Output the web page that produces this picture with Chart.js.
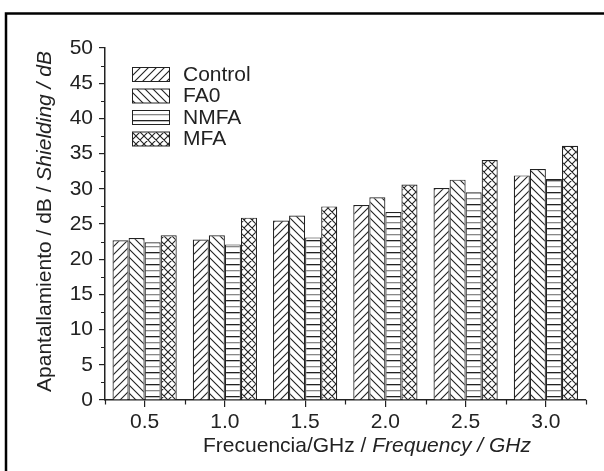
<!DOCTYPE html>
<html>
<head>
<meta charset="utf-8">
<script src="https://cdn.jsdelivr.net/npm/chart.js@4.4.1/dist/chart.umd.min.js"></script>
<style>
  html, body { margin: 0; padding: 0; background: #fff; }
  #grafica { display: block; }
</style>
</head>
<body>
<canvas id="grafica" width="604" height="471"></canvas>
<script>
// Datos
const categorias = ['0.5', '1.0', '1.5', '2.0', '2.5', '3.0'];
const nombresSeries = ['Control', 'FA0', 'NMFA', 'MFA'];
const control = [22.7, 22.8, 25.5, 27.7, 30.1, 31.9];
const fa0 = [23.0, 23.4, 26.2, 28.8, 31.3, 32.8];
const nmfa = [22.4, 22.1, 23.1, 26.7, 29.5, 31.4];
const mfa = [23.4, 25.9, 27.5, 30.6, 34.1, 36.1];
const yMin = 0, yMax = 50, yPaso = 5;

const tinta = '#222';
const fuente = '"Liberation Sans", Arial, sans-serif';

// Tramas de relleno
function crearTrama(tipo) {
  const p = 8;
  const c = document.createElement('canvas');
  c.width = p; c.height = tipo === 'horiz' ? 12 : p;
  const g = c.getContext('2d');
  g.fillStyle = '#fff';
  g.fillRect(0, 0, c.width, c.height);
  if (tipo === 'horiz') {
    g.fillStyle = tinta;
    g.fillRect(0, 0, p, 1.3);
    g.fillStyle = '#888';
    g.fillRect(0, 6, p, 1.3);
    return g.createPattern(c, 'repeat');
  }
  g.strokeStyle = tinta;
  g.lineWidth = 1.1;
  g.beginPath();
  if (tipo === 'slash' || tipo === 'cross') {
    g.moveTo(-1, p + 1); g.lineTo(p + 1, -1);
    g.moveTo(-1, 1); g.lineTo(1, -1);
    g.moveTo(p - 1, p + 1); g.lineTo(p + 1, p - 1);
  }
  if (tipo === 'back' || tipo === 'cross') {
    g.moveTo(-1, -1); g.lineTo(p + 1, p + 1);
    g.moveTo(p - 1, -1); g.lineTo(p + 1, 1);
    g.moveTo(-1, p - 1); g.lineTo(1, p + 1);
  }
  g.stroke();
  return g.createPattern(c, 'repeat');
}

const ctx = document.getElementById('grafica').getContext('2d');
const tramas = [crearTrama('slash'), crearTrama('back'), crearTrama('horiz'), crearTrama('cross')];
const valores = [control, fa0, nmfa, mfa];

// Marco, ticks menores, leyenda y titulos de ejes
const extras = {
  id: 'extras',
  beforeDraw(chart) {
    const c = chart.ctx;
    c.save();
    c.fillStyle = '#fff';
    c.fillRect(0, 0, chart.width, chart.height);
    c.strokeStyle = '#000';
    c.lineWidth = 2.5;
    c.beginPath();
    c.moveTo(6, 471); c.lineTo(6, 13.5); c.lineTo(604, 13.5);
    c.stroke();
    c.restore();
  },
  afterDraw(chart) {
    const c = chart.ctx;
    const x = chart.scales.x, y = chart.scales.y;
    const area = chart.chartArea;
    c.save();
    c.strokeStyle = tinta;
    c.lineWidth = 1.2;
    c.beginPath();
    // ticks menores en Y
    for (let v = yMin + yPaso / 2; v < yMax; v += yPaso) {
      const py = Math.round(y.getPixelForValue(v)) + 0.5;
      c.moveTo(area.left, py); c.lineTo(area.left - 3.5, py);
    }
    // ticks menores en X (limites de categoria)
    for (let i = 0; i <= categorias.length; i++) {
      const px = Math.round((x.getPixelForValue(i - 0.5))) + 0.5;
      c.moveTo(px, area.bottom); c.lineTo(px, area.bottom + 4.5);
    }
    c.stroke();

    // leyenda
    c.font = '21px ' + fuente;
    c.textBaseline = 'middle';
    c.textAlign = 'left';
    const filas = [67, 88.5, 110, 131.5];
    nombresSeries.forEach((nombre, i) => {
      c.fillStyle = tramas[i];
      c.fillRect(132.5, filas[i] + 0.5, 37, 14);
      c.strokeStyle = tinta;
      c.lineWidth = 1;
      c.strokeRect(132.5, filas[i] + 0.5, 37, 14);
      c.fillStyle = tinta;
      c.fillText(nombre, 183, filas[i] + 8);
    });

    // titulos con partes en cursiva
    const tam = 21;
    function textoMixto(partes, x0, y0) {
      let cx = x0;
      partes.forEach(([t, it]) => {
        c.font = (it ? 'italic ' : '') + tam + 'px ' + fuente;
        c.fillText(t, cx, y0);
        cx += c.measureText(t).width;
      });
    }
    function anchoMixto(partes) {
      let w = 0;
      partes.forEach(([t, it]) => {
        c.font = (it ? 'italic ' : '') + tam + 'px ' + fuente;
        w += c.measureText(t).width;
      });
      return w;
    }
    c.fillStyle = tinta;
    c.textBaseline = 'alphabetic';
    const tx = [['Frecuencia/GHz / ', false], ['Frequency / GHz', true]];
    const wx = anchoMixto(tx);
    textoMixto(tx, 367 - wx / 2, 452);

    const ty = [['Apantallamiento / dB / ', false], ['Shielding / dB', true]];
    const wy = anchoMixto(ty);
    c.translate(51, 221.5);
    c.rotate(-Math.PI / 2);
    textoMixto(ty, -wy / 2, 0);
    c.restore();
  }
};

new Chart(ctx, {
  type: 'bar',
  data: {
    labels: categorias,
    datasets: nombresSeries.map((nombre, i) => ({
      label: nombre,
      data: valores[i],
      backgroundColor: tramas[i],
      borderColor: tinta,
      borderWidth: 1.2,
      borderSkipped: 'bottom'
    }))
  },
  options: {
    responsive: false,
    animation: false,
    events: [],
    layout: { padding: { left: 0, top: 48, right: 18, bottom: 0 } },
    datasets: { bar: { categoryPercentage: 0.8, barPercentage: 1.0 } },
    plugins: { legend: { display: false }, tooltip: { enabled: false } },
    scales: {
      x: {
        afterFit(s) { s.height = 71; },
        grid: { display: true, drawOnChartArea: false, offset: false, tickLength: 7, color: tinta, lineWidth: 1.2 },
        border: { display: true, color: tinta, width: 1.5 },
        ticks: { color: tinta, font: { family: fuente, size: 21 }, padding: 3, maxRotation: 0 }
      },
      y: {
        min: yMin,
        max: yMax,
        afterFit(s) { s.width = 104.5; },
        grid: { display: true, drawOnChartArea: false, tickLength: 5.5, color: tinta, lineWidth: 1.2 },
        border: { display: true, color: tinta, width: 1.5 },
        ticks: { stepSize: yPaso, color: tinta, font: { family: fuente, size: 21 }, padding: 6 }
      }
    }
  },
  plugins: [extras]
});
</script>
</body>
</html>
